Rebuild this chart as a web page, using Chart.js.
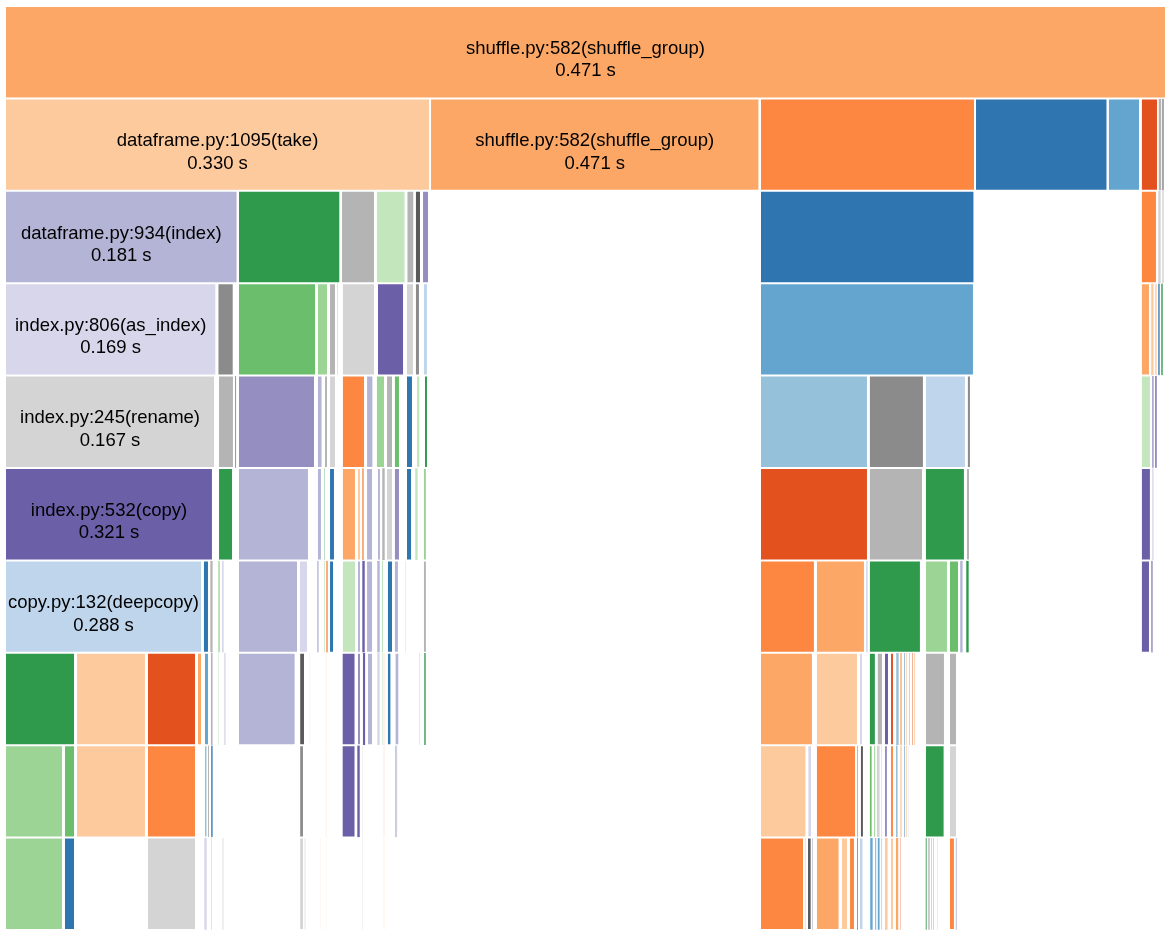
<!DOCTYPE html>
<html>
<head>
<meta charset="utf-8">
<title>shuffle_group icicle</title>
<script src="https://cdn.jsdelivr.net/npm/chart.js@4.4.0/dist/chart.umd.min.js"></script>
<style>
  html, body { margin: 0; padding: 0; background: #fff; }
  #wrap { width: 1171px; height: 938px; }
</style>
</head>
<body>
<div id="wrap"><canvas id="icicle"></canvas></div>
<script>
// call depth levels (top row = root)
const depths = ['depth 0', 'depth 1', 'depth 2', 'depth 3', 'depth 4',
                'depth 5', 'depth 6', 'depth 7', 'depth 8', 'depth 9'];

// blocks per depth: [start, end, colour key], share of root in per mille
const depth0 = [[0, 1000, 'o3']];

const depth1 = [
  [0, 366.1, 'o4'], [366.1, 649.8, 'o3'], [650.3, 835.5, 'o2'], [835.5, 949.6, 'b1'],
  [950.0, 977.6, 'b2'], [978.4, 993.1, 'o1'], [993.4, 996.2, 'k3'], [996.5, 998.3, 'k2']
];

const depth2 = [
  [0, 200.3, 'p3'], [200.7, 288.8, 'g1'], [289.4, 318.7, 'k3'], [319.5, 345.0, 'g4'],
  [345.8, 352.5, 'k3'], [353.1, 358.3, 'k1'], [359.2, 365.2, 'p2'],
  [650.3, 835.0, 'b1'],
  [978.4, 992.2, 'o2'], [993.1, 995.7, 'k4'], [996.5, 998.3, 'k4']
];

const depth3 = [
  [0, 182.0, 'p4'], [183.0, 197.0, 'k2'], [200.7, 267.9, 'g2'], [268.7, 278.2, 'g3'],
  [279.1, 285.1, 'k3'], [285.9, 287.0, 'k4'], [290.2, 318.7, 'k4'], [320.4, 343.7, 'p1'],
  [345.4, 352.3, 'k4'], [353.1, 357.4, 'k2'], [360.0, 364.3, 'b4'],
  [650.3, 834.6, 'b2'],
  [978.4, 986.2, 'o3'], [987.0, 989.6, 'o4'], [990.5, 992.2, 'o4'], [993.1, 994.8, 'b1'],
  [995.7, 997.4, 'g1']
];

const depth4 = [
  [0, 180.9, 'k4'], [183.5, 197.2, 'k3'], [198.1, 199.3, 'g1'], [200.7, 267.0, 'p2'],
  [268.7, 273.5, 'p3'], [274.8, 278.2, 'k3'], [279.1, 285.1, 'k4'], [290.2, 310.1, 'o2'],
  [311.0, 317.3, 'p3'], [319.5, 327.3, 'g3'], [328.2, 334.2, 'k3'], [335.0, 340.2, 'g2'],
  [345.4, 351.4, 'b1'], [354.0, 357.8, 'g4'], [360.9, 364.3, 'g1'],
  [650.3, 743.3, 'b3'], [744.1, 791.5, 'k2'], [792.4, 827.7, 'b4'], [828.5, 832.0, 'k2'],
  [978.4, 987.0, 'g4'], [987.9, 989.6, 'p2'], [990.5, 992.2, 'p1']
];

const depth5 = [
  [0, 179.1, 'p1'], [183.5, 196.4, 'g1'], [200.7, 261.8, 'p3'], [268.7, 273.0, 'p3'],
  [274.8, 275.6, 'g1'], [279.1, 284.2, 'b1'], [290.2, 302.3, 'o3'], [303.2, 306.6, 'o4'],
  [307.5, 309.2, 'o2'], [311.0, 317.0, 'p3'], [320.4, 323.8, 'p3'], [324.7, 327.3, 'k3'],
  [328.2, 334.2, 'k4'], [335.0, 340.2, 'p2'], [345.4, 350.6, 'b1'], [353.1, 355.7, 'g4'],
  [360.0, 363.4, 'g3'],
  [650.3, 743.3, 'o1'], [744.1, 790.7, 'k3'], [792.4, 826.8, 'g1'], [827.7, 831.2, 'k3'],
  [978.4, 987.0, 'p1'], [987.9, 989.6, 'p4']
];

const depth6 = [
  [0, 169.7, 'b4'], [170.5, 175.7, 'b1'], [176.6, 179.1, 'k3'], [183.5, 185.2, 'g3'],
  [186.6, 188.6, 'p4'], [200.7, 252.4, 'p3'], [253.2, 261.0, 'p4'], [268.7, 270.4, 'p3'],
  [274.8, 275.6, 'g2'], [276.5, 278.2, 'o2'], [279.1, 283.4, 'b1'], [290.2, 302.3, 'g4'],
  [303.2, 306.6, 'p3'], [307.5, 310.1, 'p1'], [311.0, 317.0, 'p3'], [320.4, 323.0, 'p3'],
  [324.7, 325.6, 'g2'], [329.0, 334.2, 'b1'], [335.0, 339.3, 'p3'], [344.5, 345.4, 'o4'],
  [360.0, 363.4, 'k3'],
  [650.3, 697.6, 'o2'], [698.5, 740.7, 'o3'], [741.5, 743.3, 'p4'], [744.1, 788.9, 'g1'],
  [792.4, 812.2, 'g3'], [813.1, 821.7, 'g2'], [822.5, 825.1, 'p3'], [827.7, 830.3, 'g1'],
  [978.4, 986.2, 'p1'], [987.0, 988.8, 'p2']
];

const depth7 = [
  [0, 60.3, 'g1'], [61.2, 121.4, 'o4'], [122.3, 164.5, 'o1'], [165.4, 169.7, 'o3'],
  [171.4, 175.7, 'b2'], [177.1, 179.1, 'k3'], [183.5, 184.3, 'g3'], [188.6, 190.3, 'p4'],
  [200.7, 250.3, 'p3'], [253.4, 258.4, 'k1'], [262.3, 263.1, 'p3'], [276.1, 276.9, 'o3'],
  [290.0, 301.9, 'p1'], [303.2, 306.6, 'p2'], [308.0, 310.5, 'p1'], [311.8, 317.0, 'p3'],
  [320.4, 323.0, 'p4'], [324.5, 325.3, 'g2'], [326.0, 326.9, 'o2'], [329.0, 332.8, 'b1'],
  [335.6, 339.6, 'p3'], [356.6, 357.4, 'k3'], [360.9, 362.6, 'g1'],
  [650.3, 695.9, 'o3'], [698.5, 734.7, 'o4'], [735.6, 739.0, 'p4'], [744.1, 750.1, 'g1'],
  [750.9, 756.2, 'k3'], [757.1, 761.4, 'p1'], [762.3, 765.7, 'o1'], [767.4, 770.0, 'b3'],
  [770.9, 772.6, 'o3'], [774.3, 775.2, 'b1'], [775.6, 776.9, 'o4'], [778.6, 779.5, 'b2'],
  [781.2, 782.1, 'o1'], [782.9, 784.2, 'o4'], [792.4, 809.6, 'k3'], [813.1, 820.0, 'k3']
];

const depth8 = [
  [0, 50.0, 'g3'], [50.8, 60.3, 'g2'], [61.2, 121.4, 'o4'], [122.3, 164.5, 'o2'],
  [171.4, 174.4, 'b3'], [174.8, 175.7, 'k1'], [177.4, 179.1, 'b1'], [182.6, 183.2, 'b4'],
  [190.3, 190.9, 'o4'], [253.4, 257.5, 'k2'], [276.1, 276.9, 'o3'], [290.0, 301.9, 'p1'],
  [303.2, 305.8, 'p1'], [307.5, 308.3, 'k4'], [326.0, 326.9, 'o3'], [335.9, 337.6, 'p3'],
  [337.9, 338.6, 'g4'],
  [650.3, 690.3, 'o4'], [691.1, 695.1, 'p4'], [698.5, 733.0, 'o2'], [733.8, 734.9, 'g2'],
  [736.4, 739.8, 'k1'], [744.1, 747.3, 'g2'], [748.4, 749.8, 'g3'], [750.8, 753.6, 'k4'],
  [754.4, 755.4, 'b4'], [757.1, 760.5, 'p2'], [762.3, 765.7, 'o2'], [767.1, 769.1, 'b3'],
  [770.9, 772.6, 'o4'], [774.3, 775.2, 'b1'], [775.6, 776.9, 'o4'], [777.5, 778.4, 'b4'],
  [792.4, 809.3, 'g1'], [813.1, 820.0, 'k4']
];

const depth9 = [
  [0, 50.0, 'g3'], [50.8, 60.3, 'b1'], [122.3, 164.5, 'k4'], [171.4, 174.0, 'p4'],
  [177.4, 178.5, 'g4'], [187.2, 188.3, 'k3'], [253.4, 257.5, 'k4'], [257.9, 258.9, 'k3'],
  [271.2, 271.9, 'o4'], [276.1, 276.9, 'o4'], [307.5, 308.3, 'k4'], [326.0, 326.9, 'o4'],
  [650.3, 688.2, 'o2'], [689.0, 690.0, 'g4'], [690.8, 694.8, 'k1'], [695.1, 696.2, 'p3'],
  [698.5, 718.8, 'o3'], [720.0, 726.1, 'o4'], [727.0, 732.1, 'o2'], [733.6, 734.7, 'b1'],
  [735.6, 739.4, 'b4'], [745.0, 747.6, 'b2'], [749.0, 750.8, 'b3'], [751.4, 753.6, 'b2'],
  [754.4, 755.8, 'b4'], [757.7, 760.5, 'o4'], [762.3, 765.7, 'o4'], [767.1, 769.7, 'o3'],
  [770.9, 771.7, 'o1'], [792.7, 794.1, 'g1'], [795.0, 796.7, 'k3'], [797.6, 798.4, 'o1'],
  [799.3, 800.1, 'o1'], [801.4, 802.0, 'o4'], [802.7, 803.6, 'o4'], [813.1, 818.2, 'o2'],
  [818.6, 820.0, 'p3']
];

// labelled blocks: which depth, which block in that depth, text
const labelDepth = [0, 1, 1, 2, 3, 4, 5, 6];
const labelSlot  = [0, 0, 1, 0, 0, 0, 0, 0];
const labelNames = [
  'shuffle.py:582(shuffle_group)', 'dataframe.py:1095(take)', 'shuffle.py:582(shuffle_group)',
  'dataframe.py:934(index)', 'index.py:806(as_index)', 'index.py:245(rename)',
  'index.py:532(copy)', 'copy.py:132(deepcopy)'
];
const labelTimes = ['0.471 s', '0.330 s', '0.471 s', '0.181 s', '0.169 s', '0.167 s', '0.321 s', '0.288 s'];

// colour keys -> colours (category20c-like)
const palette = {
  o1: '#e3511f', o2: '#fd8740', o3: '#fca766', o4: '#fdca9d',
  b1: '#2f76b1', b2: '#64a5cf', b3: '#95c1db', b4: '#bfd5eb',
  g1: '#2f994c', g2: '#6bbe6c', g3: '#9bd495', g4: '#c3e6bc',
  p1: '#6b5fa8', p2: '#958fc1', p3: '#b4b4d6', p4: '#d7d6ea',
  k1: '#5a5a5a', k2: '#8b8b8b', k3: '#b4b4b4', k4: '#d4d4d4'
};

const allDepths = [depth0, depth1, depth2, depth3, depth4, depth5, depth6, depth7, depth8, depth9];

const points = [];
const colors = [];
const rowOffset = [];
allDepths.forEach((row, d) => {
  rowOffset.push(points.length);
  row.forEach(b => {
    points.push({ x: [b[0], b[1]], y: depths[d] });
    colors.push(palette[b[2]]);
  });
});

// names + times written in the middle of the wide blocks
const blockLabels = {
  id: 'blockLabels',
  afterDatasetsDraw(chart) {
    const meta = chart.getDatasetMeta(0);
    const c = chart.ctx;
    c.save();
    c.fillStyle = '#000';
    c.font = '18.5px "Liberation Sans", Arial, sans-serif';
    c.textAlign = 'center';
    c.textBaseline = 'alphabetic';
    labelNames.forEach((name, i) => {
      const el = meta.data[rowOffset[labelDepth[i]] + labelSlot[i]];
      const cx = (el.x + el.base) / 2;
      c.fillText(name, cx, el.y + 1.5);
      c.fillText(labelTimes[i], cx, el.y + 24);
    });
    c.restore();
  }
};

new Chart(document.getElementById('icicle'), {
  type: 'bar',
  data: {
    labels: depths,
    datasets: [{
      data: points,
      backgroundColor: colors,
      borderColor: '#ffffff',
      borderWidth: ctx => {
        const r = ctx.raw;
        return r && (r.x[1] - r.x[0]) < 3 ? 0.3 : 1;
      },
      borderSkipped: false,
      inflateAmount: 0,
      categoryPercentage: 1.0,
      barPercentage: 1.0
    }]
  },
  options: {
    indexAxis: 'y',
    responsive: true,
    maintainAspectRatio: false,
    animation: false,
    layout: { padding: { left: 5, right: 5, top: 6, bottom: 8 } },
    scales: {
      x: { type: 'linear', min: 0, max: 1000, display: false },
      y: { display: false }
    },
    plugins: {
      legend: { display: false },
      tooltip: { enabled: false }
    }
  },
  plugins: [blockLabels]
});
</script>
</body>
</html>
